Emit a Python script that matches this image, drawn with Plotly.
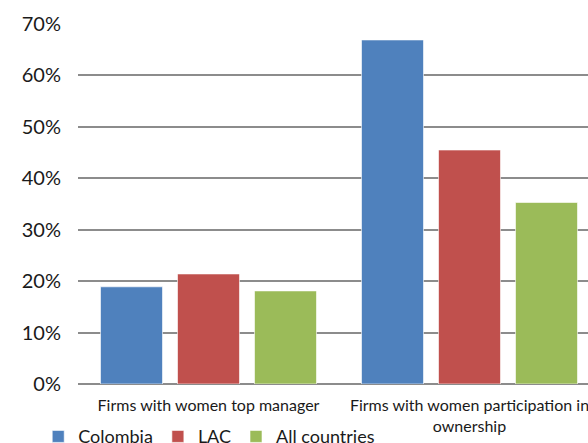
import plotly.graph_objects as go

categories = ["Firms with women top manager", "Firms with women participation in<br>ownership"]
colombia = [0.189, 0.669]
lac = [0.214, 0.455]
all_countries = [0.181, 0.353]
series_names = ["Colombia", "LAC", "All countries"]
colors = ["#4F81BD", "#C0504D", "#9BBB59"]
tick_vals = [0, 0.1, 0.2, 0.3, 0.4, 0.5, 0.6, 0.7]
tick_text = ["0%", "10%", "20%", "30%", "40%", "50%", "60%", "70%"]

FONT = "Lato"

fig = go.Figure()
for name, vals, col in zip(series_names, [colombia, lac, all_countries], colors):
    fig.add_trace(go.Bar(
        x=[0, 1], y=vals, name=name,
        marker=dict(color=col, line=dict(color="rgba(255,255,255,0.6)", width=1)),
    ))

fig.update_layout(
    width=588, height=443,
    margin=dict(l=78, r=0, t=24, b=59, autoexpand=False),
    paper_bgcolor="white", plot_bgcolor="white",
    barmode="group", bargap=0.115, bargroupgap=0.195,
    font=dict(family=FONT, color="#1a1a1a"),
    showlegend=True,
    legend=dict(orientation="h", x=-0.078, xanchor="left", y=-0.095, yanchor="top",
                font=dict(size=18, family=FONT), itemwidth=30, tracegroupgap=0,
                bgcolor="rgba(0,0,0,0)"),
)
fig.update_xaxes(
    range=[-0.5, -0.5 + 510 / 261], tickvals=[0, 1], ticktext=categories,
    tickfont=dict(size=16, family=FONT), showgrid=False, zeroline=False,
    showline=False, ticks="", ticklabelstandoff=10, automargin=False,
    ticklabeloverflow="allow",
)
fig.update_yaxes(
    range=[0, 0.7], tickvals=tick_vals, ticktext=tick_text,
    tickfont=dict(size=20, family=FONT), showgrid=True, gridcolor="#8c8c8c", gridwidth=1.5,
    zeroline=True, zerolinecolor="#8c8c8c", zerolinewidth=1.5, showline=False,
    ticks="", ticklabelstandoff=16, automargin=False,
)
fig.write_html("out.html", config={"displayModeBar": False},
               post_script="document.body.style.margin='0';")
